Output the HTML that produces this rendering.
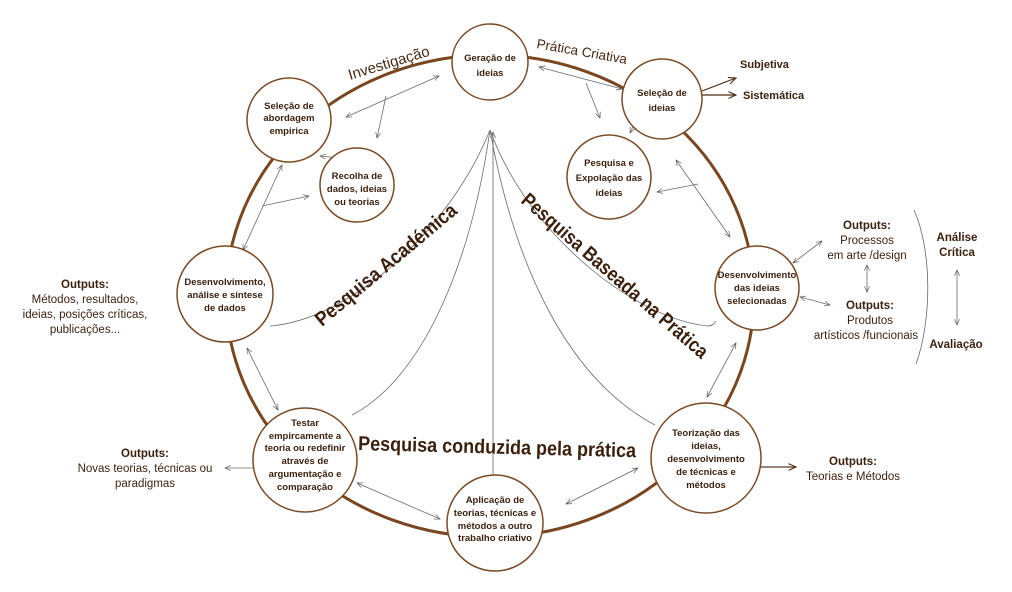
<!DOCTYPE html>
<html><head><meta charset="utf-8"><style>
html,body{margin:0;padding:0;background:#fff;}
svg{display:block;font-family:"Liberation Sans",sans-serif;}
.n{fill:#3b1f0c;font-weight:bold;font-size:9.5px;text-anchor:middle;}
.o{fill:#3b1f0c;font-size:11.5px;text-anchor:middle;}
.ob{fill:#3b1f0c;font-size:11.5px;font-weight:bold;text-anchor:middle;}
.big{fill:#3b1f0c;font-weight:bold;font-size:20px;}
.c{fill:#fff;stroke:#7a4a26;stroke-width:1.5;}
.a{stroke:#6a6a6a;stroke-width:0.8;fill:none;}
</style></head><body>
<svg width="1012" height="592" viewBox="0 0 1012 592">
<defs>
<marker id="ar" viewBox="0 0 10 10" refX="9" refY="5" markerWidth="8" markerHeight="8" orient="auto-start-reverse"><path d="M0,1 L9,5 L0,9" fill="none" stroke="#555" stroke-width="1"/></marker>
<marker id="ar2" viewBox="0 0 10 10" refX="9" refY="5" markerWidth="7" markerHeight="7" orient="auto-start-reverse"><path d="M0,1 L9,5 L0,9" fill="none" stroke="#4a2a12" stroke-width="1.3"/></marker>
</defs>
<ellipse cx="490" cy="296" rx="264" ry="241" fill="none" stroke="#7a4620" stroke-width="3"/>
<text transform="translate(350,80) rotate(-17)" font-size="15" fill="#4a2a12">Investigação</text>
<text transform="translate(536,48) rotate(10)" font-size="13.5" fill="#4a2a12">Prática Criativa</text>
<!-- internal curves -->
<path class="a" d="M490,130 C450,230 350,320 270,326"/>
<path class="a" d="M490,130 C470,270 420,380 352,415"/>
<path class="a" d="M493,475 L493,132" marker-end="url(#ar)"/>
<path class="a" d="M490,130 C515,270 570,380 655,425"/>
<path class="a" d="M490,130 C530,240 640,320 708,326 C712,326 715,323 716,321"/>
<!-- arrows -->
<path class="a" d="M346,117 L439,76" marker-start="url(#ar)" marker-end="url(#ar)"/>
<path class="a" d="M386,96 L377,138" marker-end="url(#ar)"/>
<path class="a" d="M320,156 L340,158" marker-start="url(#ar)" marker-end="url(#ar)"/>
<path class="a" d="M243,250 L282,165" marker-start="url(#ar)" marker-end="url(#ar)"/>
<path class="a" d="M262,206 L309,196" marker-end="url(#ar)"/>
<path class="a" d="M539,67 L622,89" marker-start="url(#ar)" marker-end="url(#ar)"/>
<path class="a" d="M586,83 L600,118" marker-end="url(#ar)"/>
<path class="a" d="M630,133 L640,112" marker-start="url(#ar)" marker-end="url(#ar)"/>
<path class="a" d="M676,160 L730,237" marker-start="url(#ar)" marker-end="url(#ar)"/>
<path class="a" d="M698,184 L657,192" marker-end="url(#ar)"/>
<path class="a" d="M793,263 L822,241" marker-start="url(#ar)" marker-end="url(#ar)"/>
<path class="a" d="M800,297 L830,305" marker-start="url(#ar)" marker-end="url(#ar)"/>
<path class="a" d="M867,265 L867,292" marker-start="url(#ar)" marker-end="url(#ar)"/>
<path class="a" d="M957,270 L957,325" marker-start="url(#ar)" marker-end="url(#ar)"/>
<path class="a" d="M736,343 L707,397" marker-start="url(#ar)" marker-end="url(#ar)"/>
<path class="a" d="M247,348 L278,410" marker-start="url(#ar)" marker-end="url(#ar)"/>
<path class="a" d="M357,483 L440,519" marker-start="url(#ar)" marker-end="url(#ar)"/>
<path class="a" d="M566,504 L638,468" marker-start="url(#ar)" marker-end="url(#ar)"/>
<path class="a" d="M253,468 L225,468" marker-end="url(#ar)"/>
<path d="M760,467 L796,467" stroke="#5a3a22" stroke-width="1.2" marker-end="url(#ar2)"/>
<path d="M702,91 L736,78" stroke="#4a2a12" stroke-width="1.2" marker-end="url(#ar2)"/>
<path d="M702,95 L736,95" stroke="#4a2a12" stroke-width="1.2" marker-end="url(#ar2)"/>
<path d="M914,210 C932,250 932,320 916,364" fill="none" stroke="#666" stroke-width="0.8"/>
<!-- nodes -->
<circle class="c" cx="490" cy="62" r="38"/>
<text class="n" x="490" y="61">Geração de</text><text class="n" x="490" y="76">ideias</text>
<circle class="c" cx="662" cy="99" r="40"/>
<text class="n" x="662" y="96">Seleção de</text><text class="n" x="662" y="111">ideias</text>
<circle class="c" cx="289" cy="120" r="42"/>
<text class="n" x="289" y="109" font-size="8.5">Seleção de</text><text class="n" x="289" y="121" font-size="8.5">abordagem</text><text class="n" x="289" y="134" font-size="8.5">empirica</text>
<circle class="c" cx="357" cy="185" r="37"/>
<text class="n" x="357" y="179" font-size="8.5">Recolha de</text><text class="n" x="357" y="192" font-size="8.5">dados, ideias</text><text class="n" x="357" y="205" font-size="8.5">ou teorias</text>
<circle class="c" cx="609" cy="177" r="42"/>
<text class="n" x="609" y="166">Pesquisa e</text><text class="n" x="609" y="181">Expolação das</text><text class="n" x="609" y="196">ideias</text>
<circle class="c" cx="757" cy="288" r="42"/>
<text class="n" x="757" y="278" font-size="8.5">Desenvolvimento</text><text class="n" x="757" y="291" font-size="8.5">das ideias</text><text class="n" x="757" y="304" font-size="8.5">selecionadas</text>
<circle class="c" cx="225" cy="294" r="48"/>
<text class="n" x="225" y="285" font-size="8.5">Desenvolvimento,</text><text class="n" x="225" y="298" font-size="8.5">análise e síntese</text><text class="n" x="225" y="311" font-size="8.5">de dados</text>
<circle class="c" cx="305" cy="460" r="52"/>
<text class="n" x="305" y="426" font-size="8.5">Testar</text><text class="n" x="305" y="439" font-size="8.5">empircamente a</text><text class="n" x="305" y="451" font-size="8.5">teoria ou redefinir</text><text class="n" x="305" y="464" font-size="8.5">através de</text><text class="n" x="305" y="477" font-size="8.5">argumentação e</text><text class="n" x="305" y="490" font-size="8.5">comparação</text>
<circle class="c" cx="495" cy="523" r="48"/>
<text class="n" x="495" y="503" font-size="8.5">Aplicação de</text><text class="n" x="495" y="516" font-size="8.5">teorias, técnicas e</text><text class="n" x="495" y="529" font-size="8.5">métodos a outro</text><text class="n" x="495" y="541" font-size="8.5">trabalho criativo</text>
<circle class="c" cx="706" cy="458" r="55"/>
<text class="n" x="706" y="436" font-size="8.5">Teorização das</text><text class="n" x="706" y="449" font-size="8.5">ideias,</text><text class="n" x="706" y="462" font-size="8.5">desenvolvimento</text><text class="n" x="706" y="475" font-size="8.5">de técnicas e</text><text class="n" x="706" y="488" font-size="8.5">métodos</text>
<!-- big labels -->
<text class="big" transform="translate(322,327) rotate(-40)" textLength="178" lengthAdjust="spacingAndGlyphs">Pesquisa Académica</text>
<text class="big" transform="translate(520,202) rotate(41)" textLength="240" lengthAdjust="spacingAndGlyphs">Pesquisa Baseada na Prática</text>
<text class="big" transform="translate(358,450) rotate(1.5)" textLength="278" lengthAdjust="spacingAndGlyphs">Pesquisa conduzida pela prática</text>
<!-- side labels -->
<text x="740" y="68" font-size="11" font-weight="bold" fill="#3b1f0c">Subjetiva</text>
<text x="743" y="99" font-size="11" font-weight="bold" fill="#3b1f0c">Sistemática</text>
<text class="ob" x="867" y="229">Outputs:</text>
<text class="o" x="867" y="244">Processos</text>
<text class="o" x="867" y="259">em  arte /design</text>
<text class="ob" x="870" y="309">Outputs:</text>
<text class="o" x="870" y="324">Produtos</text>
<text class="o" x="866" y="339">artísticos /funcionais</text>
<text class="ob" x="957" y="241">Análise</text>
<text class="ob" x="957" y="256">Crítica</text>
<text class="ob" x="956" y="348">Avaliação</text>
<text class="ob" x="853" y="465">Outputs:</text>
<text class="o" x="853" y="480">Teorias e Métodos</text>
<text class="ob" x="85" y="288">Outputs:</text>
<text class="o" x="85" y="303">Métodos, resultados,</text>
<text class="o" x="85" y="318">ideias, posições críticas,</text>
<text class="o" x="85" y="333">publicações...</text>
<text class="ob" x="145" y="457">Outputs:</text>
<text class="o" x="145" y="472">Novas teorias, técnicas ou</text>
<text class="o" x="145" y="487">paradigmas</text>
</svg>
</body></html>
